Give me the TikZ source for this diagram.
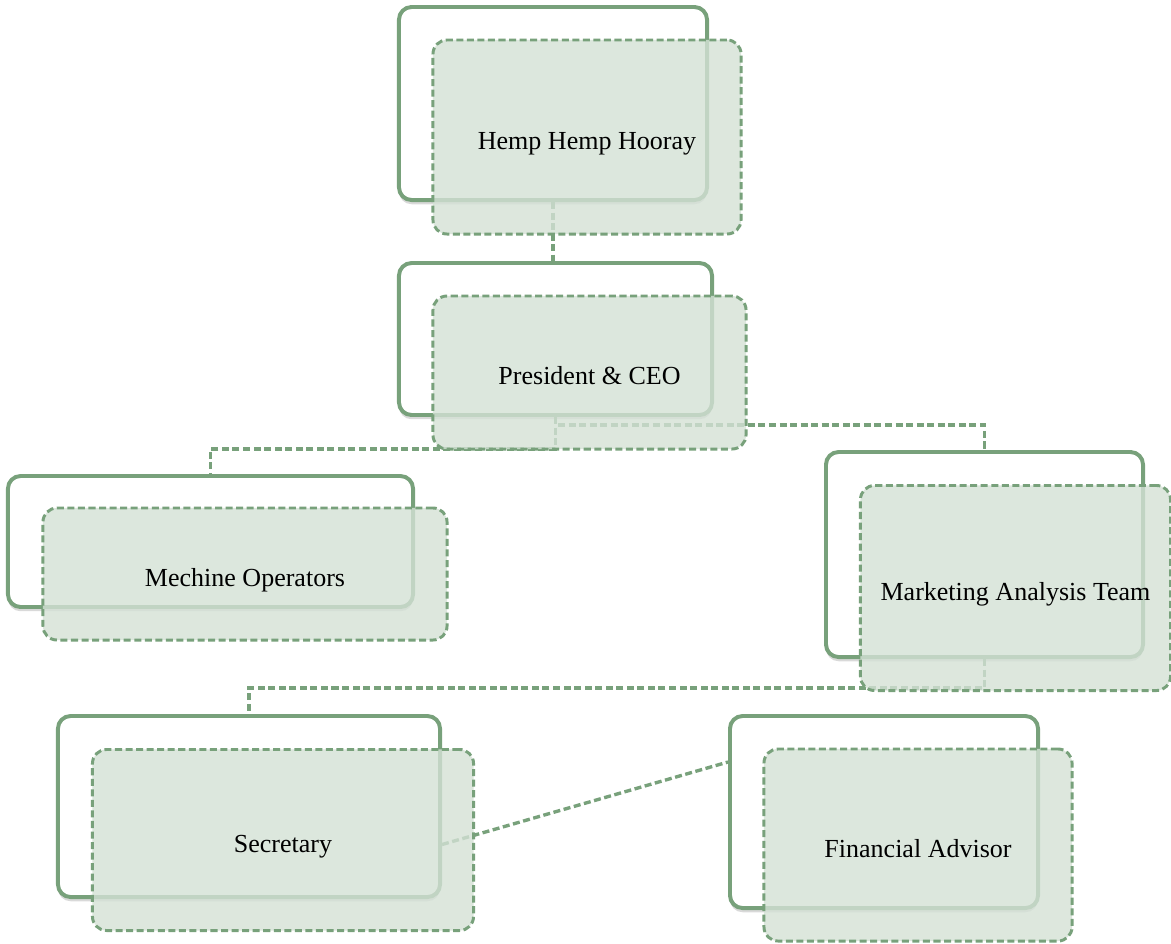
\documentclass[tikz,border=0pt]{standalone}
\usepackage{fontspec}
\setmainfont{Liberation Serif}
\usetikzlibrary{shadows}

\definecolor{leafgreen}{RGB}{120,161,123}
\definecolor{mistgreen}{RGB}{212,225,213}

\tikzset{
    backbox/.style={draw=leafgreen, line width=2.8pt, rounded corners=9pt, fill=white,
        inner sep=0pt, drop shadow={shadow xshift=0pt, shadow yshift=-3pt, opacity=0.3}},
    frontbox/.style={draw=leafgreen, line width=2.1pt, dash pattern=on 5pt off 2.5pt,
        rounded corners=10pt, fill=mistgreen, fill opacity=0.8, text opacity=1,
        inner sep=0pt, text height=21.5pt, text depth=4.3pt,
        font=\fontsize{18.5}{22}\selectfont},
    link/.style={draw=leafgreen, line width=2.4pt, dash pattern=on 5pt off 2.5pt},
}

\begin{document}
\begin{tikzpicture}[x=0.025cm, y=-0.025cm]
    \useasboundingbox (0, 0) rectangle (1171, 943);

    % solid boxes behind
    \node[backbox, minimum width=7.7cm, minimum height=4.825cm] (hempback) at (553, 103.5) {};
    \node[backbox, minimum width=7.825cm, minimum height=3.8cm] (presback) at (555.5, 339) {};
    \node[backbox, minimum width=10.125cm, minimum height=3.275cm] (mechback) at (210.5, 541.5) {};
    \node[backbox, minimum width=7.925cm, minimum height=5.125cm] (markback) at (984.5, 554.5) {};
    \node[backbox, minimum width=9.55cm, minimum height=4.525cm] (secback) at (249, 806.5) {};
    \node[backbox, minimum width=7.7cm, minimum height=4.8cm] (finback) at (884, 812) {};

    % connectors
    \draw[link] (hempback.south) -- (hempback.south |- presback.north);
    \draw[link] (presback.south) -- ++(0, 8) -| (markback.north);
    \draw[link] (presback.south) -- ++(0, 32) -| (mechback.north);
    \draw[link] (markback.south) -- ++(0, 29) -| (secback.north);
    \draw[link] ([shift={(0, 38)}]secback.east) -- ([shift={(0, -50)}]finback.west);

    % dashed boxes in front
    \node[frontbox, minimum width=7.7cm, minimum height=4.85cm] (hemp) at ([shift={(34, 33.5)}]hempback.center) {Hemp Hemp Hooray};
    \node[frontbox, minimum width=7.825cm, minimum height=3.825cm] (pres) at ([shift={(34, 33.5)}]presback.center) {President \& CEO};
    \node[frontbox, minimum width=10.1cm, minimum height=3.3cm] (mech) at ([shift={(34.5, 32.5)}]mechback.center) {Mechine Operators};
    \node[frontbox, minimum width=7.75cm, minimum height=5.125cm] (mark) at ([shift={(31, 33.5)}]markback.center) {Marketing Analysis Team};
    \node[frontbox, minimum width=9.525cm, minimum height=4.525cm] (sec) at ([shift={(34, 33.5)}]secback.center) {Secretary};
    \node[frontbox, minimum width=7.7cm, minimum height=4.8cm] (fin) at ([shift={(34, 33)}]finback.center) {Financial Advisor};

\end{tikzpicture}
\end{document}
